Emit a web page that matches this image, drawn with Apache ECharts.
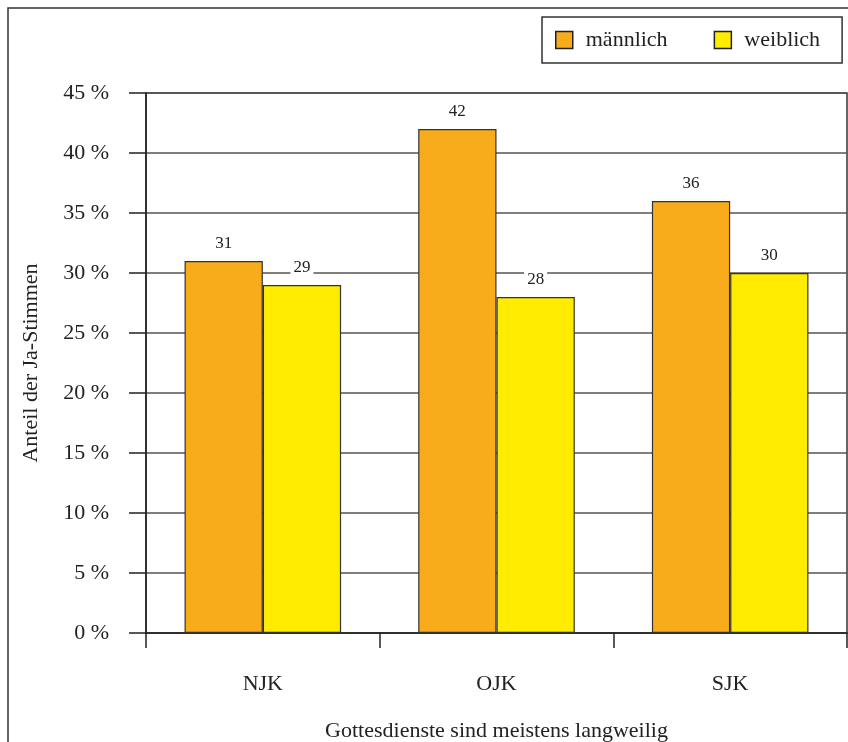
<!DOCTYPE html>
<html>
<head>
<meta charset="utf-8">
<script src="https://cdn.jsdelivr.net/npm/echarts@6/dist/echarts.min.js"></script>
<style>html,body{margin:0;padding:0;background:#fff}#c{width:848px;height:742px}</style>
</head>
<body>
<div id="c"></div>
<script>
const categories = ['NJK', 'OJK', 'SJK'];
const maleValues = [31, 42, 36];
const femaleValues = [29, 28, 30];
const seriesNames = ['männlich', 'weiblich'];
const yAxisTitle = 'Anteil der Ja-Stimmen';
const xAxisTitle = 'Gottesdienste sind meistens langweilig';

const FONT = '"Liberation Serif", "DejaVu Serif", serif';
const chart = echarts.init(document.getElementById('c'), null, {renderer: 'canvas'});
const labelCfg = {
  show: true, position: 'top', distance: 9,
  fontFamily: FONT, fontSize: 17, color: '#222',
  backgroundColor: '#fff', padding: [1, 3, 0, 3]
};
chart.setOption({
  animation: false,
  backgroundColor: '#fff',
  graphic: [{
    type: 'rect', z: -10, silent: true,
    shape: {x: 8, y: 8, width: 1000, height: 1000},
    style: {fill: null, stroke: '#333', lineWidth: 1.5}
  }],
  legend: {
    left: 542, top: 17,
    padding: [12, 22, 12, 13],
    itemWidth: 17, itemHeight: 17, itemGap: 46,
    borderColor: '#333', borderWidth: 1.5,
    icon: 'rect',
    itemStyle: {borderColor: '#222', borderWidth: 1.5},
    textStyle: {fontFamily: FONT, fontSize: 22, color: '#222', padding: [0, 0, 0, 8]},
    data: seriesNames
  },
  grid: {
    left: 146, right: 1, top: 93, bottom: 109,
    outerBoundsMode: 'none', containLabel: false,
    show: true, borderColor: '#333', borderWidth: 1.5, backgroundColor: 'transparent'
  },
  xAxis: {
    type: 'category', data: categories,
    name: xAxisTitle, nameLocation: 'middle', nameGap: 87,
    nameTextStyle: {fontFamily: FONT, fontSize: 22, color: '#222'},
    axisLine: {lineStyle: {color: '#222', width: 1.5}},
    axisTick: {show: true, length: 15, lineStyle: {color: '#222', width: 1.5}},
    axisLabel: {fontFamily: FONT, fontSize: 22, color: '#222', margin: 40}
  },
  yAxis: {
    type: 'value', min: 0, max: 45, interval: 5,
    name: yAxisTitle, nameLocation: 'middle', nameGap: 104,
    nameTextStyle: {fontFamily: FONT, fontSize: 22, color: '#222'},
    axisLine: {show: true, lineStyle: {color: '#222', width: 1.5}},
    axisTick: {show: true, length: 17, lineStyle: {color: '#222', width: 1.5}},
    axisLabel: {fontFamily: FONT, fontSize: 22, color: '#222', margin: 37, padding: [0, 0, 9, 0], formatter: '{value} %'},
    splitLine: {lineStyle: {color: '#555', width: 1.5}}
  },
  series: [
    {
      name: seriesNames[0], type: 'bar', data: maleValues,
      barGap: '0%', barCategoryGap: '33%',
      itemStyle: {color: '#F8AC1C', borderColor: '#333', borderWidth: 1.2},
      label: labelCfg
    },
    {
      name: seriesNames[1], type: 'bar', data: femaleValues,
      barGap: '0%', barCategoryGap: '33%',
      itemStyle: {color: '#FFEC00', borderColor: '#333', borderWidth: 1.2},
      label: labelCfg
    }
  ]
});
</script>
</body>
</html>
